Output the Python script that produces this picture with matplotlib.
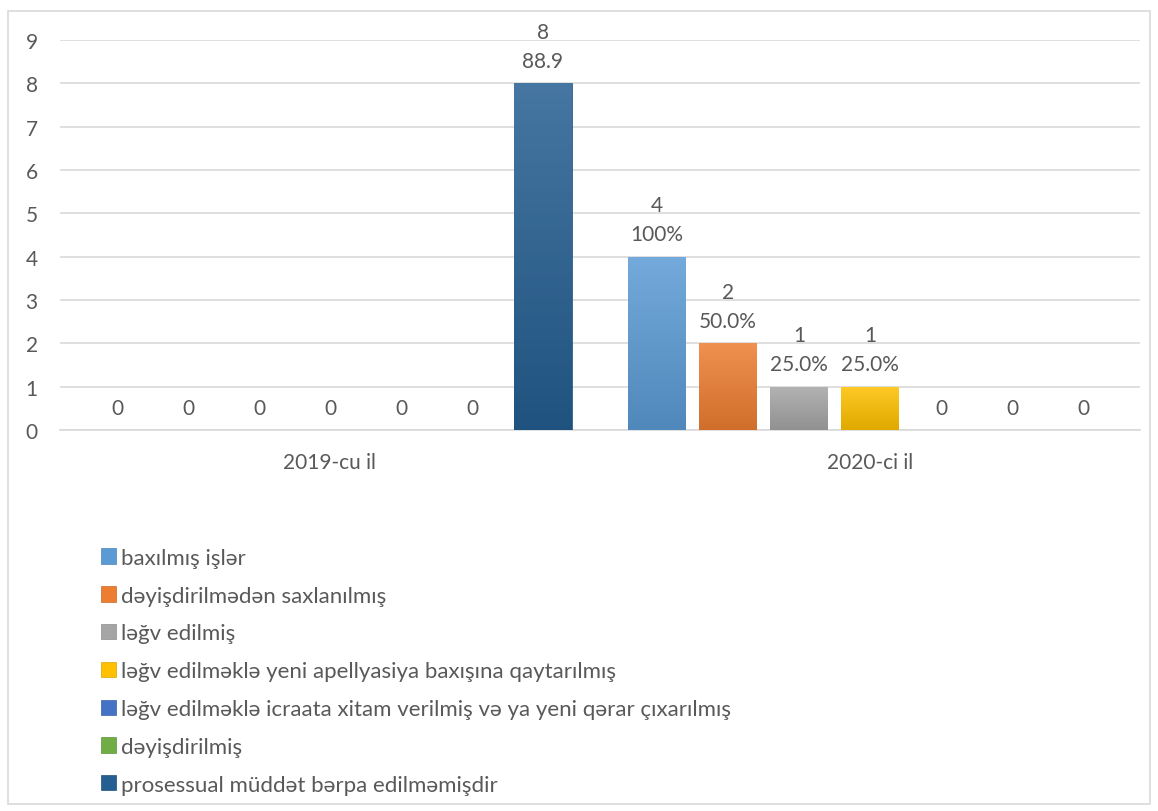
import numpy as np
import matplotlib
matplotlib.use("Agg")
import matplotlib.pyplot as plt
from matplotlib.patches import Rectangle
from matplotlib.colors import to_rgb

# ---------------------------------------------------------------------------
# data
# ---------------------------------------------------------------------------
years = ["2019-cu il", "2020-ci il"]
series = [
    "baxılmış işlər",
    "dəyişdirilmədən saxlanılmış",
    "ləğv edilmiş",
    "ləğv edilməklə yeni apellyasiya baxışına qaytarılmış",
    "ləğv edilməklə icraata xitam verilmiş və ya yeni qərar çıxarılmış",
    "dəyişdirilmiş",
    "prosessual müddət bərpa edilməmişdir",
]
values_2019 = [0, 0, 0, 0, 0, 0, 8]
values_2020 = [4, 2, 1, 1, 0, 0, 0]
pct_2019 = ["", "", "", "", "", "", "88.9"]
pct_2020 = ["100%", "50.0%", "25.0%", "25.0%", "", "", ""]

colors = ["#5B9BD5", "#ED7D31", "#A5A5A5", "#FFC000", "#4472C4", "#70AD47", "#255E91"]

TXT = "#595959"
FS = 15
plt.rcParams["font.family"] = ["Lato", "DejaVu Sans"]

fig = plt.figure(figsize=(11.58, 8.12), dpi=100)
ax = fig.add_axes([0.0518, 0.4692, 0.9326, 0.4803])

# outer frame like the Excel chart area
fig.patches.append(Rectangle((8 / 1158, 7 / 812), 1142 / 1158, 793 / 812,
                             transform=fig.transFigure, fill=False,
                             edgecolor="#D9D9D9", linewidth=1.2))

slot = 0.1315
width = 0.1056
x = np.arange(len(years))


def shade(c, f):
    r, g, b = to_rgb(c)
    if f >= 0:
        return (r + (1 - r) * f, g + (1 - g) * f, b + (1 - b) * f)
    return (r * (1 + f), g * (1 + f), b * (1 + f))


handles = []
for i, name in enumerate(series):
    vals = [values_2019[i], values_2020[i]]
    pcts = [pct_2019[i], pct_2020[i]]
    pos = x + (i - 3) * slot
    bars = ax.bar(pos, vals, width, color=colors[i], label=name, zorder=3,
                  edgecolor=shade(colors[i], -0.15), linewidth=0.5)
    handles.append(bars)
    for b, v, p in zip(bars, vals, pcts):
        if v > 0:
            # vertical gradient: lighter on top, darker at the base
            top, bot = np.array(shade(colors[i], 0.15)), np.array(shade(colors[i], -0.12))
            t = np.linspace(0, 1, 64)
            img = np.array([[top * (1 - g) + bot * g] for g in t])
            im = ax.imshow(img, extent=(b.get_x(), b.get_x() + width, 0, v),
                           origin="upper", aspect="auto", zorder=3.5)
            im.set_clip_path(b)
        lab = f"{v}\n{p}" if p else f"{v}"
        ax.annotate(lab, (b.get_x() + width / 2, v), xytext=(0, 9),
                    textcoords="offset points", ha="center", va="bottom",
                    fontsize=FS, color=TXT, linespacing=1.55)

ax.set_xlim(-0.5, 1.5)
ax.set_ylim(0, 9)
ax.set_yticks(range(10))
ax.set_xticks(x)
ax.set_xticklabels(years)
ax.tick_params(axis="both", length=0, labelsize=FS, labelcolor=TXT)
ax.tick_params(axis="y", pad=16)
ax.tick_params(axis="x", pad=16)
ax.grid(axis="y", color="#D9D9D9", linewidth=1.2, zorder=0)
for s in ["top", "right", "left"]:
    ax.spines[s].set_visible(False)
ax.spines["bottom"].set_color("#D9D9D9")
ax.spines["bottom"].set_linewidth(1.2)

fig.legend(handles=handles, labels=series, loc="upper left",
           bbox_to_anchor=(92 / 1158, 1 - 540 / 812), frameon=False,
           fontsize=16, labelcolor=TXT, handlelength=0.68, handleheight=0.68,
           handletextpad=0.22, labelspacing=0.8, borderaxespad=0)

fig.savefig("out.png", dpi=100)
